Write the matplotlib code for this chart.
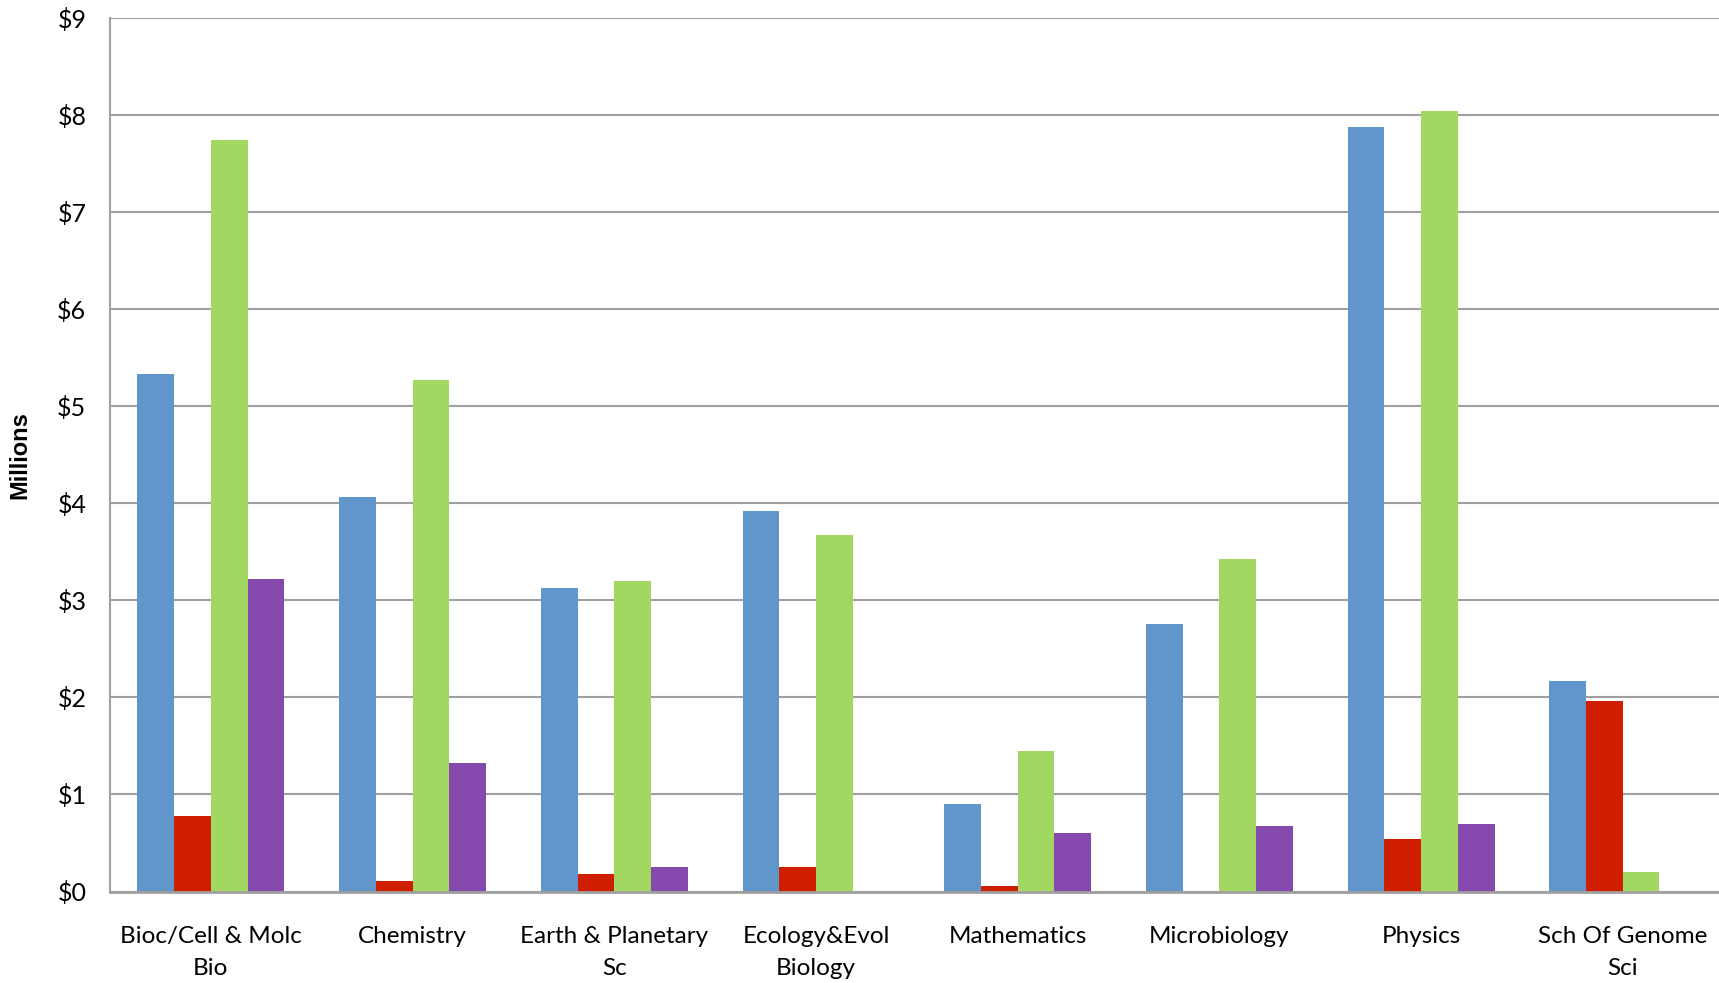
import numpy as np
import matplotlib.pyplot as plt

plt.rcParams['font.family'] = ['Lato', 'DejaVu Sans']

departments = ["Bioc/Cell & Molc\nBio", "Chemistry", "Earth & Planetary\nSc",
               "Ecology&Evol\nBiology", "Mathematics", "Microbiology",
               "Physics", "Sch Of Genome\nSci"]

# values in millions of dollars
blue = [5.33, 4.07, 3.13, 3.92, 0.90, 2.76, 7.88, 2.17]
red = [0.78, 0.11, 0.18, 0.25, 0.06, 0.0, 0.54, 1.96]
green = [7.75, 5.27, 3.20, 3.67, 1.45, 3.43, 8.04, 0.20]
purple = [3.22, 1.32, 0.25, 0.0, 0.60, 0.68, 0.70, 0.0]

series = [blue, red, green, purple]
colors = ['#6096C9', '#CF1F00', '#A2D762', '#8549AE']

fig = plt.figure(figsize=(17.19, 9.83), dpi=100)
ax = fig.add_axes([110 / 1719, 91.5 / 983, 1 - 110 / 1719, (891.5 - 18.3) / 983])

x = np.arange(len(departments))
w = 0.182
for i, (vals, c) in enumerate(zip(series, colors)):
    ax.bar(x + (i - 1.5) * w, vals, width=w, color=c, edgecolor='none', zorder=3)

ax.set_xlim(-0.5, 7.477)
ax.set_ylim(0, 9)
ax.set_yticks(range(10))
ax.set_yticklabels([f"${v}" for v in range(10)], fontsize=18)
ax.set_xticks(x)
ax.set_xticklabels(departments, fontsize=17.5, linespacing=1.65)
ax.tick_params(axis='both', length=0)
ax.tick_params(axis='y', pad=17)
ax.tick_params(axis='x', pad=25)

ax.grid(axis='y', color='#A0A0A0', linewidth=1.5, zorder=0)
for s in ['right', 'top']:
    ax.spines[s].set_visible(False)
ax.spines['left'].set_color('#A0A0A0')
ax.spines['left'].set_linewidth(1.5)
ax.spines['bottom'].set_color('#A0A0A0')
ax.spines['bottom'].set_linewidth(2)
ax.spines['bottom'].set_zorder(4)

ax.set_ylabel("Millions", fontsize=17, fontweight='bold', family=['Liberation Sans'])
ax.yaxis.set_label_coords(-0.049, 0.5)

fig.savefig("out.png", dpi=100)
